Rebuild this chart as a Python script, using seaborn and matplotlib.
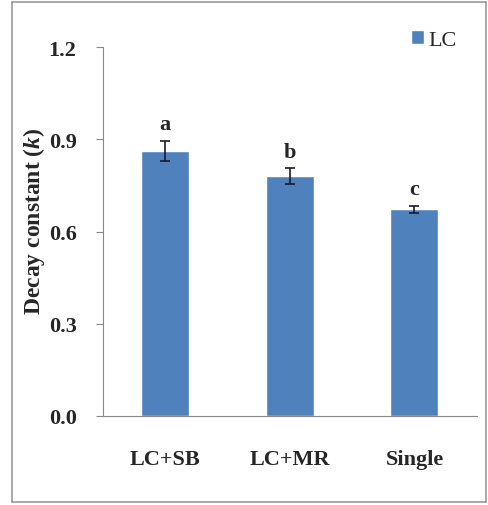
import numpy as np
import pandas as pd
import matplotlib
matplotlib.use('Agg')
import matplotlib.pyplot as plt
import matplotlib.patches as mpatches
import seaborn as sns

# 데이터
treatments = ['LC+SB', 'LC+MR', 'Single']
decay_k = [0.861, 0.780, 0.672]
decay_err = [0.033, 0.025, 0.012]
letters = ['a', 'b', 'c']
series_name = 'LC'

sns.set_style('white')
plt.rcParams['font.family'] = ['Liberation Serif', 'DejaVu Serif']
plt.rcParams['mathtext.fontset'] = 'custom'
plt.rcParams['mathtext.it'] = 'Liberation Serif:italic:bold'
plt.rcParams['mathtext.rm'] = 'Liberation Serif:bold'

df = pd.DataFrame({'treatment': treatments, 'k': decay_k, 'err': decay_err})

fig = plt.figure(figsize=(4.88, 5.06), dpi=100)
ax = fig.add_axes([0.211, 0.176, 0.766, 0.729])

bar_color = '#4F81BD'
sns.barplot(data=df, x='treatment', y='k', color=bar_color, width=0.385,
            saturation=1, label=series_name, ax=ax)

pos = np.arange(len(treatments))
ax.errorbar(pos, df['k'], yerr=df['err'], fmt='none', ecolor='#1a1a2e',
            elinewidth=1.2, capsize=3.5, capthick=1.2)

for p, v, e, t in zip(pos, df['k'], df['err'], letters):
    ax.text(p, v + e + 0.022, t, ha='center', va='bottom',
            fontsize=16, fontweight='bold')

ax.set_ylim(0, 1.2)
ax.set_xlim(-0.5, 2.5)
ax.set_yticks([0.0, 0.3, 0.6, 0.9, 1.2])
ax.set_yticklabels(['0.0', '0.3', '0.6', '0.9', '1.2'], fontsize=16, fontweight='bold')
ax.set_xticks(pos)
ax.set_xticklabels(treatments, fontsize=16, fontweight='bold')
ax.set_xticks([0.5, 1.5, 2.5], minor=True)
ax.tick_params(axis='x', which='major', length=0, pad=24)
ax.tick_params(axis='x', which='minor', length=4, direction='out', color='#888888', width=0.8)
ax.tick_params(axis='y', length=5, direction='out', color='#888888', width=0.8, pad=14, left=True)

ax.set_xlabel('')
ax.set_ylabel(r'Decay constant ($k$)', fontsize=17, fontweight='bold')
ax.yaxis.set_label_coords(-0.15, 0.53)

for s in ['top', 'right']:
    ax.spines[s].set_visible(False)
for s in ['left', 'bottom']:
    ax.spines[s].set_color('#888888')
    ax.spines[s].set_linewidth(0.8)

leg = ax.legend(loc='upper right', bbox_to_anchor=(1.0, 1.1), frameon=False,
                fontsize=16, handlelength=0.6, handleheight=0.6, handletextpad=0.2)

# 바깥 테두리
fig.patches.append(mpatches.Rectangle((0.024, 0.006), 0.972, 0.988, transform=fig.transFigure,
                                      fill=False, edgecolor='#999999', linewidth=1.2))

fig.savefig('out.png', dpi=100)
